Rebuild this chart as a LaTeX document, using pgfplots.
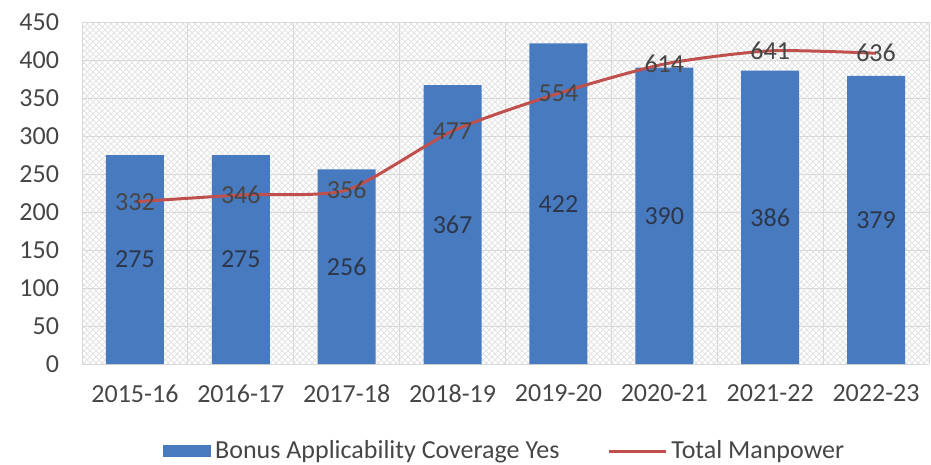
\documentclass[border=0pt]{standalone}
\usepackage{pgfplots}
\pgfplotsset{compat=1.18}
\usepackage{pgfplotstable}
\usepackage{fontspec}
\setmainfont{Carlito}
\usetikzlibrary{patterns}
\definecolor{barblue}{RGB}{72,122,192}
\definecolor{linered}{RGB}{192,80,77}
\definecolor{txt}{RGB}{70,70,70}
\definecolor{lbl}{RGB}{45,55,75}
\definecolor{gridc}{RGB}{217,217,217}

\pgfplotstableread{
x bar man
0 275 332
1 275 346
2 256 356
3 367 477
4 422 554
5 390 614
6 386 641
7 379 636
}\data

\begin{document}
\begin{tikzpicture}
\useasboundingbox (-41pt,-50.5pt) rectangle (424.5pt,182pt);
\begin{axis}[
  scale only axis, width=423.5pt, height=171pt,
  xmin=-0.5, xmax=7.5, ymin=0, ymax=450,
  ytick={0,50,...,450},
  xtick={0,...,7},
  xticklabels={2015-16,2016-17,2017-18,2018-19,2019-20,2020-21,2021-22,2022-23},
  minor xtick={-0.5,0.5,...,7.5},
  ymajorgrids, xminorgrids,
  grid style={gridc}, minor grid style={gridc},
  major tick length=0pt, minor tick length=0pt,
  axis line style={draw=none},
  tick label style={font=\fontsize{13}{15}\selectfont, text=txt},
  /pgf/number format/assume math mode=true,
  yticklabel style={anchor=east, xshift=-8pt},
  xticklabel style={yshift=-7pt},
  axis background/.style={pattern=crosshatch, pattern color=gray!22},
  legend style={at={(0.5,-0.255)}, anchor=center, draw=none, fill=none,
    legend columns=2, font=\fontsize{13}{15}\selectfont, text=txt,
    /tikz/every even column/.append style={column sep=22pt}},
]
\addplot[ybar, bar width=29pt, fill=barblue, draw=none,
  legend image code/.code={\fill[barblue] (0cm,-0.11cm) rectangle (0.85cm,0.11cm);}]
  table[x=x, y=bar] {\data};
\addlegendentry{Bonus Applicability Coverage Yes}
\addplot[draw=none, mark=none, forget plot, nodes near coords, point meta=explicit,
  every node near coord/.style={anchor=center, text=lbl, font=\fontsize{13}{15}\selectfont}]
  table[x=x, y expr=\thisrow{bar}/2, meta=bar] {\data};
\addlegendimage{linered, line width=1.5pt,
  legend image code/.code={\draw[linered, line width=1.5pt] (0cm,0cm) -- (1.0cm,0cm);}}
\addlegendentry{Total Manpower}
\end{axis}
\begin{axis}[
  scale only axis, width=423.5pt, height=171pt,
  xmin=-0.5, xmax=7.5, ymin=0, ymax=700,
  hide axis,
  /pgf/number format/assume math mode=true,
]
\addplot[linered, line width=1.5pt, smooth, tension=0.4, mark=none,
  nodes near coords, point meta=explicit,
  every node near coord/.style={anchor=center, text=txt, font=\fontsize{13}{15}\selectfont}]
  table[x=x, y=man, meta=man] {\data};
\end{axis}
\end{tikzpicture}
\end{document}
